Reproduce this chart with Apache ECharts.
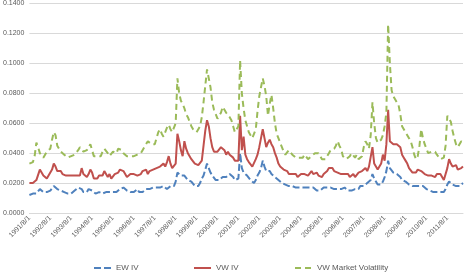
<!DOCTYPE html>
<html>
<head>
<meta charset="utf-8">
<script src="https://cdn.jsdelivr.net/npm/echarts@6/dist/echarts.min.js"></script>
<style>html,body{margin:0;padding:0;background:#fff}#c{width:466px;height:273px}</style>
</head>
<body>
<div id="c"></div>
<script>
// Monthly observations, 1991/8/1 .. 2012/5/1
const startYear = 1991, startMonth = 8, nMonths = 250;
const categories = [];
for (let k = 0; k < nMonths; k++) {
  const m = startMonth - 1 + k;
  categories.push((startYear + Math.floor(m / 12)) + '/' + (m % 12 + 1) + '/1');
}
const seriesNames = ['EW IV', 'VW IV', 'VW Market Volatility'];
const yTicks = [0, 0.02, 0.04, 0.06, 0.08, 0.10, 0.12, 0.14];

const ewIV = [
0.012,0.012,0.013,0.012,0.013,0.014,0.016,0.015,0.014,0.015,0.014,0.013,
0.015,0.016,0.018,0.017,0.016,0.015,0.015,0.014,0.014,0.013,0.013,0.014,
0.013,0.014,0.015,0.016,0.017,0.016,0.016,0.014,0.013,0.014,0.016,0.017,
0.015,0.014,0.013,0.014,0.014,0.013,0.013,0.014,0.014,0.013,0.014,0.015,
0.014,0.015,0.014,0.015,0.016,0.016,0.017,0.016,0.015,0.014,0.014,0.015,
0.014,0.015,0.016,0.014,0.013,0.014,0.015,0.016,0.017,0.016,0.016,0.017,
0.018,0.017,0.018,0.017,0.018,0.018,0.017,0.016,0.017,0.018,0.017,0.018,
0.021,0.027,0.026,0.025,0.024,0.025,0.024,0.022,0.023,0.021,0.020,0.018,
0.019,0.018,0.020,0.023,0.025,0.029,0.033,0.030,0.027,0.025,0.024,0.022,
0.021,0.022,0.023,0.024,0.023,0.024,0.025,0.026,0.025,0.024,0.022,0.022,
0.023,0.040,0.030,0.027,0.026,0.025,0.024,0.022,0.021,0.020,0.022,0.025,
0.027,0.030,0.035,0.031,0.028,0.027,0.028,0.026,0.025,0.024,0.023,0.022,
0.021,0.020,0.020,0.019,0.019,0.018,0.019,0.018,0.017,0.017,0.016,0.017,
0.016,0.017,0.016,0.017,0.018,0.017,0.018,0.017,0.016,0.015,0.016,0.015,
0.016,0.017,0.016,0.017,0.018,0.017,0.016,0.016,0.017,0.016,0.015,0.016,
0.016,0.017,0.016,0.015,0.016,0.015,0.015,0.016,0.017,0.016,0.018,0.017,
0.018,0.019,0.020,0.021,0.022,0.026,0.023,0.021,0.019,0.020,0.019,0.021,
0.024,0.028,0.035,0.030,0.029,0.027,0.028,0.026,0.026,0.024,0.022,0.021,
0.021,0.020,0.019,0.018,0.018,0.017,0.018,0.017,0.018,0.019,0.018,0.017,
0.016,0.015,0.015,0.014,0.014,0.015,0.014,0.015,0.014,0.015,0.014,0.016,
0.019,0.021,0.020,0.019,0.018,0.018,0.019,0.018,0.019,0.020
];
const vwIV = [
0.020,0.021,0.020,0.021,0.022,0.023,0.029,0.027,0.025,0.026,0.023,0.025,
0.026,0.029,0.033,0.031,0.028,0.027,0.028,0.026,0.027,0.025,0.024,0.025,
0.024,0.025,0.024,0.025,0.026,0.025,0.030,0.026,0.025,0.024,0.026,0.029,
0.027,0.023,0.024,0.023,0.025,0.026,0.025,0.028,0.027,0.024,0.026,0.023,
0.024,0.026,0.025,0.027,0.029,0.028,0.028,0.027,0.024,0.025,0.026,0.025,
0.026,0.027,0.025,0.024,0.026,0.028,0.027,0.029,0.026,0.028,0.027,0.029,
0.028,0.030,0.029,0.031,0.030,0.033,0.031,0.034,0.038,0.033,0.030,0.029,
0.033,0.053,0.048,0.042,0.038,0.048,0.043,0.040,0.041,0.036,0.035,0.033,
0.034,0.032,0.031,0.035,0.045,0.055,0.062,0.058,0.050,0.044,0.041,0.040,
0.041,0.040,0.044,0.043,0.042,0.039,0.041,0.039,0.040,0.037,0.035,0.036,
0.035,0.065,0.042,0.051,0.039,0.036,0.034,0.033,0.031,0.032,0.036,0.039,
0.044,0.050,0.056,0.050,0.044,0.047,0.049,0.046,0.044,0.040,0.037,0.033,
0.031,0.030,0.029,0.028,0.028,0.026,0.027,0.026,0.025,0.026,0.024,0.025,
0.026,0.025,0.026,0.027,0.025,0.026,0.028,0.026,0.025,0.027,0.025,0.026,
0.024,0.026,0.025,0.028,0.030,0.029,0.030,0.028,0.029,0.027,0.028,0.026,
0.025,0.026,0.025,0.026,0.024,0.025,0.026,0.024,0.025,0.027,0.026,0.028,
0.029,0.030,0.028,0.031,0.030,0.044,0.033,0.031,0.029,0.030,0.033,0.039,
0.035,0.046,0.069,0.048,0.047,0.046,0.047,0.046,0.047,0.044,0.039,0.037,
0.035,0.033,0.030,0.029,0.027,0.028,0.027,0.029,0.030,0.028,0.027,0.026,
0.026,0.025,0.026,0.025,0.025,0.024,0.026,0.025,0.026,0.024,0.022,0.023,
0.030,0.036,0.033,0.031,0.032,0.032,0.029,0.028,0.030,0.031
];
const vwMarketVol = [
0.033,0.032,0.034,0.038,0.047,0.044,0.040,0.039,0.037,0.038,0.041,0.040,
0.043,0.049,0.054,0.052,0.045,0.043,0.041,0.040,0.039,0.038,0.037,0.038,
0.038,0.039,0.039,0.040,0.042,0.044,0.043,0.041,0.040,0.042,0.044,0.046,
0.042,0.038,0.037,0.038,0.039,0.038,0.041,0.043,0.042,0.040,0.038,0.039,
0.041,0.042,0.040,0.043,0.044,0.042,0.040,0.039,0.038,0.037,0.038,0.038,
0.038,0.039,0.039,0.038,0.040,0.042,0.044,0.046,0.048,0.047,0.046,0.045,
0.046,0.050,0.054,0.056,0.053,0.051,0.054,0.057,0.059,0.056,0.054,0.054,
0.060,0.090,0.080,0.075,0.073,0.070,0.066,0.064,0.061,0.058,0.056,0.055,
0.054,0.056,0.058,0.064,0.074,0.085,0.096,0.090,0.084,0.074,0.069,0.066,
0.063,0.065,0.067,0.071,0.069,0.067,0.067,0.064,0.062,0.058,0.054,0.056,
0.058,0.102,0.080,0.070,0.062,0.058,0.054,0.052,0.050,0.049,0.056,0.068,
0.078,0.084,0.090,0.085,0.078,0.065,0.073,0.079,0.070,0.060,0.053,0.050,
0.047,0.044,0.041,0.039,0.040,0.042,0.041,0.039,0.038,0.037,0.036,0.037,
0.038,0.037,0.039,0.038,0.036,0.037,0.038,0.039,0.040,0.039,0.040,0.038,
0.036,0.037,0.036,0.038,0.040,0.042,0.041,0.043,0.045,0.048,0.045,0.043,
0.038,0.037,0.036,0.037,0.038,0.040,0.039,0.037,0.039,0.036,0.035,0.038,
0.044,0.048,0.046,0.043,0.052,0.074,0.060,0.050,0.047,0.046,0.049,0.052,
0.058,0.067,0.126,0.100,0.082,0.078,0.076,0.077,0.072,0.066,0.058,0.056,
0.054,0.052,0.050,0.048,0.044,0.039,0.036,0.038,0.045,0.056,0.050,0.046,
0.043,0.040,0.039,0.041,0.040,0.041,0.039,0.038,0.036,0.035,0.037,0.045,
0.065,0.066,0.061,0.055,0.050,0.046,0.044,0.046,0.048,0.047
];

const colors = ['#4F81BD', '#C0504D', '#9BBB59'];
const font = 'Liberation Sans, Arial, sans-serif';
const chart = echarts.init(document.getElementById('c'), null, {renderer: 'canvas'});
const legendText = {fontSize: 8, color: '#595959', fontFamily: font};
const legendCommon = {top: 259, itemWidth: 17, itemHeight: 8, itemGap: 4, textStyle: legendText,
  itemStyle: {opacity: 0, borderWidth: 0}};
chart.setOption({
  animation: false,
  color: colors,
  grid: {left: 26, right: 3, top: 0, bottom: 60, containLabel: false},
  legend: [
    Object.assign({data: [seriesNames[0]], left: 88}, legendCommon),
    Object.assign({data: [seriesNames[1]], left: 188}, legendCommon),
    Object.assign({data: [seriesNames[2]], left: 289}, legendCommon)
  ],
  xAxis: {
    type: 'category',
    data: categories,
    boundaryGap: false,
    axisLine: {show: true, lineStyle: {color: '#D9D9D9'}},
    axisTick: {show: false},
    axisLabel: {interval: 11, rotate: 45, fontSize: 7, color: '#595959', fontFamily: font, margin: 4},
    splitLine: {show: false}
  },
  yAxis: {
    type: 'value',
    min: yTicks[0], max: yTicks[yTicks.length - 1], interval: 0.02,
    axisLine: {show: false},
    axisTick: {show: false},
    axisLabel: {fontSize: 7, color: '#595959', fontFamily: font, margin: 5,
      formatter: v => v.toFixed(4)},
    splitLine: {lineStyle: {color: '#D9D9D9', width: 1}}
  },
  series: [
    {name: seriesNames[0], type: 'line', data: ewIV, showSymbol: false, symbol: 'none',
     lineStyle: {width: 2, color: colors[0], type: [7, 3]}},
    {name: seriesNames[1], type: 'line', data: vwIV, showSymbol: false, symbol: 'none',
     lineStyle: {width: 2, color: colors[1]}},
    {name: seriesNames[2], type: 'line', data: vwMarketVol, showSymbol: false, symbol: 'none',
     lineStyle: {width: 2, color: colors[2], type: [6, 4]}}
  ]
});
</script>
</body>
</html>
